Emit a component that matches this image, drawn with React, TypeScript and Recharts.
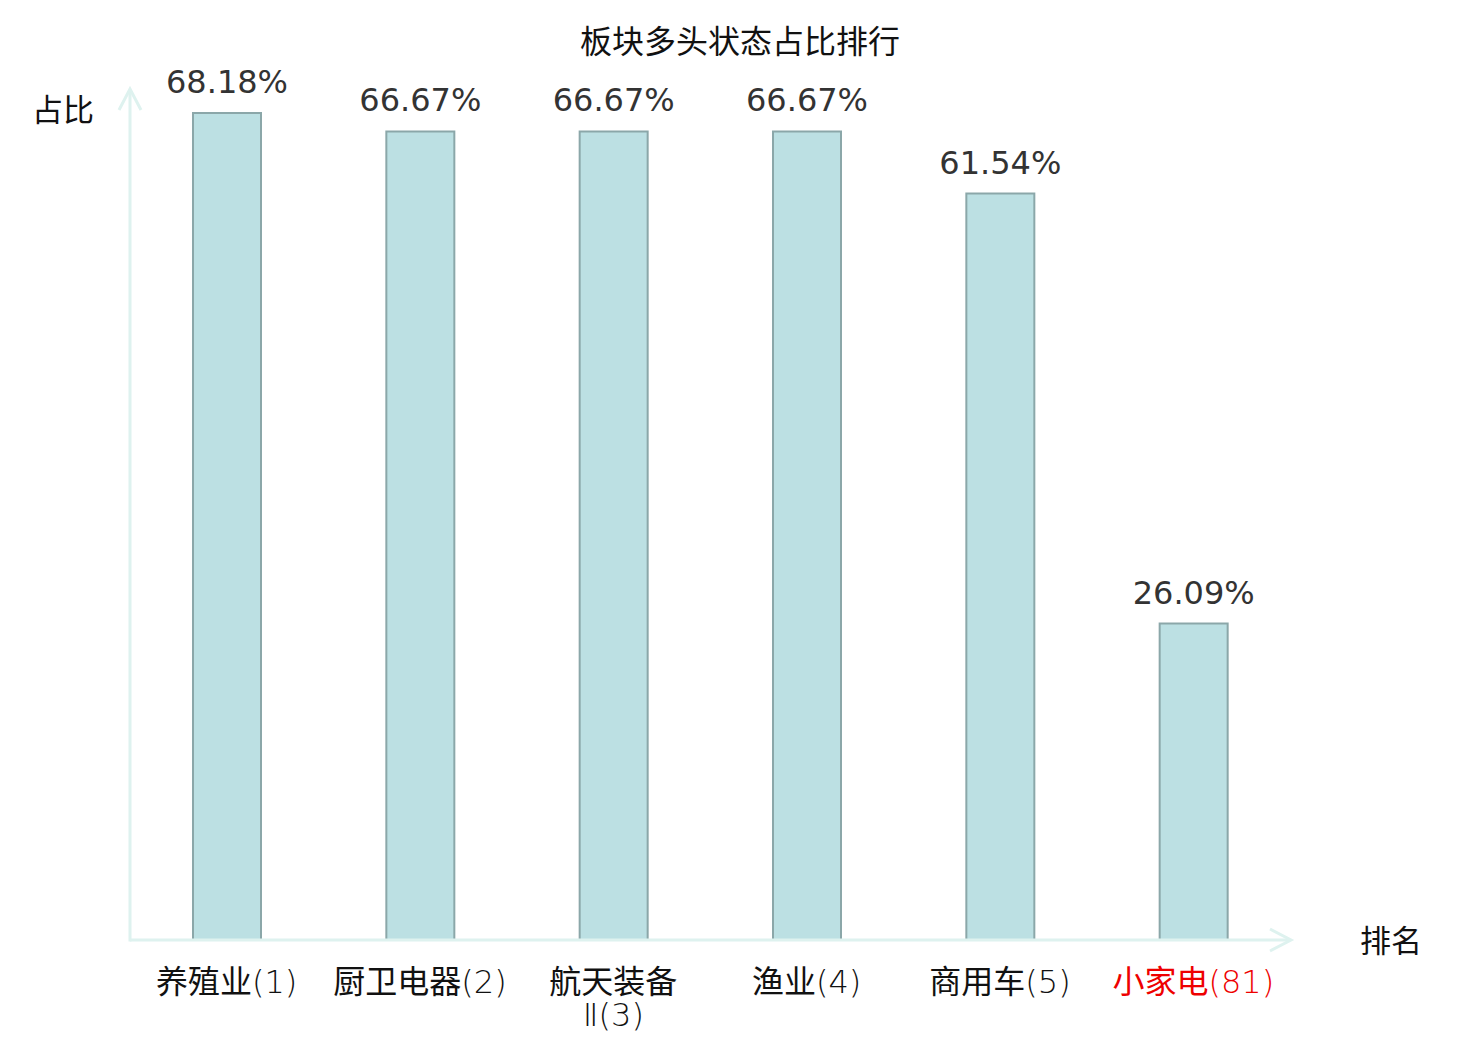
import React from 'react';
import { BarChart, Bar, XAxis, YAxis, LabelList } from 'recharts';

const categories = ['养殖业(1)', '厨卫电器(2)', '航天装备Ⅱ(3)', '渔业(4)', '商用车(5)', '小家电(81)'];
const ratios = [68.18, 66.67, 66.67, 66.67, 61.54, 26.09];
const highlighted = ['小家电(81)'];
const yDomain = [0, 70];

const data = categories.map((name, i) => ({ name, value: ratios[i] }));

const W = 1480;
const H = 1040;
const XH = 100;
const M = { top: 91, right: 190, bottom: 0, left: 130 };
const AXIS = '#def2ef';
const CJK = '"DejaVu Sans", "Noto Sans CJK SC", sans-serif';
const isCJK = (ch: string) => /[\u4e00-\u9fff]/.test(ch);

function tokenize(s: string): string[] {
  const out: string[] = [];
  let run = '';
  for (const ch of Array.from(s)) {
    if (isCJK(ch)) {
      if (run) {
        out.push(run);
        run = '';
      }
      out.push(ch);
    } else {
      run += ch;
    }
  }
  if (run) out.push(run);
  return out;
}

function emWidth(t: string): number {
  let w = 0;
  for (const ch of Array.from(t)) {
    w += isCJK(ch) ? 1 : ch === 'Ⅱ' ? 0.8 : 0.5;
  }
  return w;
}

function wrapLabel(s: string, maxEm: number): string[] {
  const lines: string[] = [];
  let cur = '';
  for (const tok of tokenize(s)) {
    if (cur && emWidth(cur + tok) > maxEm) {
      lines.push(cur);
      cur = tok;
    } else {
      cur += tok;
    }
  }
  if (cur) lines.push(cur);
  return lines;
}

function runs(s: string): { text: string; cjk: boolean }[] {
  const out: { text: string; cjk: boolean }[] = [];
  for (const ch of Array.from(s)) {
    const c = isCJK(ch);
    if (out.length && out[out.length - 1].cjk === c) out[out.length - 1].text += ch;
    else out.push({ text: ch, cjk: c });
  }
  return out;
}

const Tick = (props: any) => {
  const { x, y, payload } = props;
  const label: string = payload.value;
  const lines = wrapLabel(label, 5.6);
  const color = highlighted.includes(label) ? '#ee0000' : '#111';
  const nodes: React.ReactNode[] = [];
  lines.forEach((l, i) => {
    runs(l).forEach((r, j) => {
      nodes.push(
        <tspan
          key={`${i}-${j}`}
          x={j === 0 ? x : undefined}
          dy={j === 0 ? (i === 0 ? 45 : 33) : undefined}
          fontWeight={r.cjk ? 400 : 200}
        >
          {r.text}
        </tspan>
      );
    });
  });
  return (
    <text x={x} y={y} textAnchor="middle" fill={color} fontSize={32} fontFamily={CJK}>
      {nodes}
    </text>
  );
};

const fmt = (v: any) => `${Number(v).toFixed(2)}%`;

export default function App() {
  const plotRight = W - M.right;
  const base = H - M.bottom - XH;
  return (
    <div style={{ position: 'absolute', left: 0, top: 0, width: W, height: H, background: '#fff' }}>
      <BarChart width={W} height={H} data={data} margin={M}>
        <YAxis hide domain={yDomain} />
        <XAxis
          dataKey="name"
          axisLine={{ stroke: AXIS, strokeWidth: 3 }}
          tickLine={false}
          tick={<Tick />}
          interval={0}
          height={XH}
        />
        <Bar dataKey="value" fill="#bce0e3" stroke="#8ba7a9" strokeWidth={2} barSize={68} isAnimationActive={false}>
          <LabelList
            dataKey="value"
            position="top"
            offset={20}
            formatter={fmt}
            fill="#333"
            fontSize={32}
            fontFamily='"DejaVu Sans", sans-serif'
          />
        </Bar>
      </BarChart>
      <svg width={W} height={H} style={{ position: 'absolute', left: 0, top: 0, pointerEvents: 'none' }}>
        <line x1={M.left} y1={base + 1.5} x2={M.left} y2={M.top - 2} stroke={AXIS} strokeWidth={3} />
        <polyline
          points={`${M.left - 11},${M.top + 19} ${M.left},${M.top - 2} ${M.left + 11},${M.top + 19}`}
          fill="none"
          stroke={AXIS}
          strokeWidth={3}
        />
        <polyline
          points={`${plotRight - 20},${base - 11} ${plotRight + 1},${base} ${plotRight - 20},${base + 11}`}
          fill="none"
          stroke={AXIS}
          strokeWidth={3}
        />
        <text x={740} y={53} textAnchor="middle" fontSize={32} fontFamily={CJK} fill="#111">
          板块多头状态占比排行
        </text>
        <text x={63} y={121} textAnchor="middle" fontSize={31} fontFamily={CJK} fill="#111">
          占比
        </text>
        <text x={1391} y={952} textAnchor="middle" fontSize={31} fontFamily={CJK} fill="#111">
          排名
        </text>
      </svg>
    </div>
  );
}
